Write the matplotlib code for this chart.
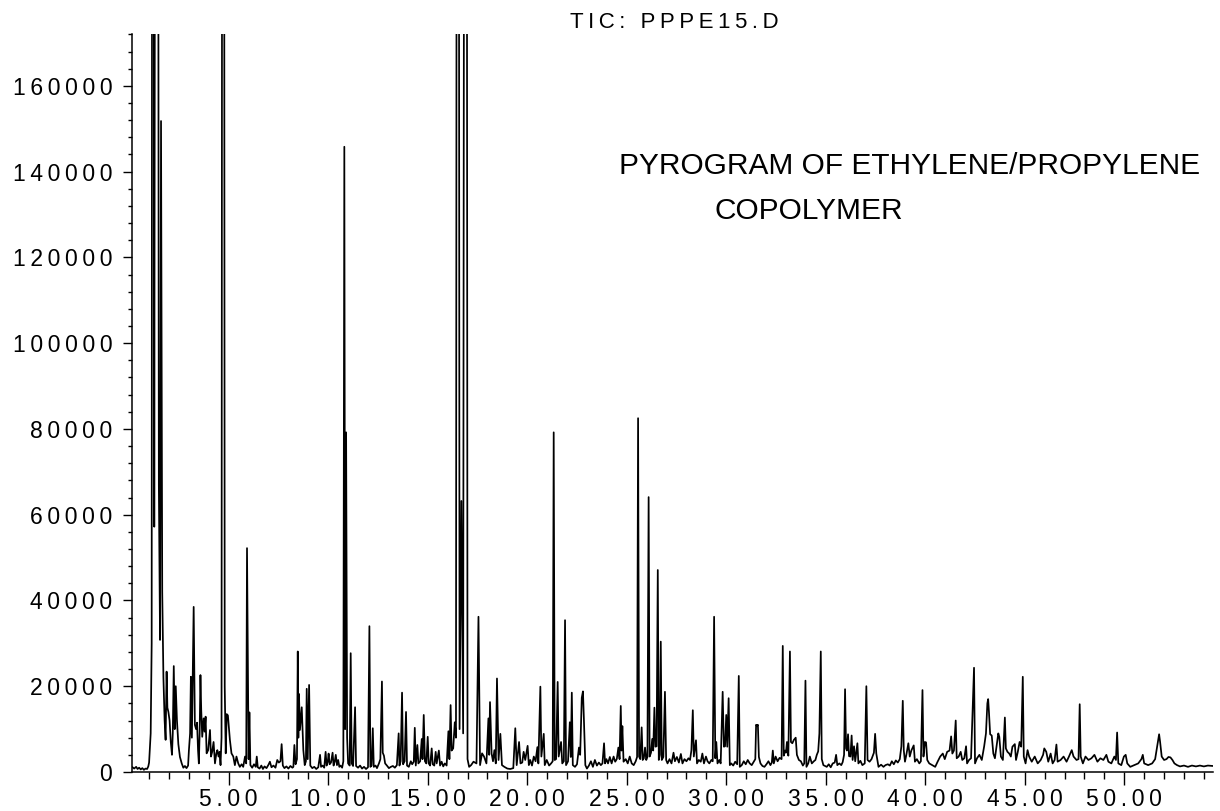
import matplotlib
matplotlib.use("Agg")
import matplotlib.pyplot as plt
from matplotlib import font_manager
from matplotlib.ticker import MultipleLocator, FuncFormatter
import numpy as np

# TIC trace, (retention time [min], abundance)
# peaks going off the top of the plot are given as 600000 (clipped)
seg_0_5 = [(0.17, 1100), (0.25, 800), (0.35, 1200), (0.42, 700), (0.5, 1000), (0.58, 600),
           (0.66, 900), (0.74, 500), (0.82, 800), (0.9, 700), (0.96, 1300), (1.0, 2200),
           (1.04, 5500), (1.08, 9000), (1.13, 30000), (1.19, 600000), (1.26, 57200),
           (1.38, 600000), (1.49, 67000), (1.55, 30800), (1.60, 151800), (1.66, 42000),
           (1.72, 22000), (1.78, 12000), (1.83, 7500), (1.88, 23400), (1.92, 15000),
           (1.97, 14000), (2.03, 12000), (2.09, 7000), (2.15, 4000), (2.19, 9000),
           (2.24, 24700), (2.29, 10000), (2.34, 20000), (2.40, 12000), (2.47, 6500),
           (2.55, 3500), (2.64, 2000), (2.72, 1000), (2.8, 1400), (2.88, 900), (2.96, 1500),
           (3.0, 5000), (3.06, 9000), (3.1, 22200), (3.15, 8000), (3.24, 38500), (3.3, 11000),
           (3.36, 10000), (3.41, 11500), (3.46, 5000), (3.5, 2000), (3.54, 9000),
           (3.58, 22600), (3.62, 14400), (3.67, 8200), (3.74, 12500), (3.79, 9400),
           (3.84, 12900), (3.89, 4350), (3.97, 5100), (4.06, 9800), (4.11, 3600),
           (4.17, 4700), (4.24, 7000), (4.31, 2000), (4.38, 4350), (4.43, 5100),
           (4.49, 3600), (4.54, 4700), (4.59, 1600), (4.64, 8000), (4.72, 600000),
           (4.80, 20000), (4.85, 4350), (4.90, 13500), (4.96, 13200)]
seg_5_10 = [(5.06, 7500), (5.14, 4350), (5.23, 3600), (5.31, 1600), (5.39, 3600), (5.48, 2000),
            (5.56, 1200), (5.65, 1800), (5.73, 1200), (5.82, 3600), (5.88, 2000),
            (5.92, 52200), (5.97, 21800), (6.0, 3000), (6.04, 13900), (6.09, 1600),
            (6.18, 1000), (6.27, 1800), (6.36, 1200), (6.41, 3600), (6.46, 1100), (6.55, 800),
            (6.64, 1500), (6.72, 700), (6.8, 1300), (6.9, 900), (7.0, 1700), (7.07, 2400),
            (7.15, 1100), (7.25, 1500), (7.35, 1000), (7.44, 2800), (7.52, 2200), (7.6, 2500),
            (7.66, 6500), (7.72, 1500), (7.8, 900), (7.9, 1300), (8.0, 800), (8.1, 1400),
            (8.2, 1000), (8.25, 1200), (8.30, 6300), (8.36, 1800), (8.43, 3000),
            (8.47, 28100), (8.50, 8000), (8.53, 18200), (8.58, 9800), (8.67, 15100),
            (8.75, 5100), (8.82, 1600), (8.88, 2500), (8.92, 19400), (8.97, 3000),
            (9.04, 20300), (9.10, 1500), (9.2, 900), (9.3, 1200), (9.4, 700), (9.5, 1100),
            (9.59, 4000), (9.64, 1200), (9.72, 1500), (9.8, 1000), (9.87, 4700), (9.92, 1500),
            (9.98, 2500)]
seg_10_15 = [(10.02, 4300), (10.07, 1800), (10.14, 2200), (10.22, 4500), (10.27, 1500),
             (10.33, 2500), (10.38, 4000), (10.44, 1600), (10.5, 2800), (10.56, 1200),
             (10.62, 1500), (10.7, 1000), (10.76, 2500), (10.81, 145800), (10.85, 10000),
             (10.90, 79200), (10.95, 8000), (11.0, 2000), (11.08, 1500), (11.13, 27700),
             (11.18, 2000), (11.25, 1400), (11.35, 15100), (11.40, 1400), (11.5, 1000),
             (11.6, 1500), (11.7, 800), (11.8, 1200), (11.9, 700), (12.0, 1100),
             (12.07, 34000), (12.12, 1200), (12.18, 1500), (12.24, 10200), (12.29, 1200),
             (12.38, 1500), (12.45, 900), (12.55, 2000), (12.62, 3000), (12.70, 21100),
             (12.74, 4500), (12.8, 3800), (12.86, 2000), (12.95, 1500), (13.05, 900),
             (13.15, 1200), (13.25, 1400), (13.35, 1000), (13.45, 1600), (13.54, 9000),
             (13.58, 1500), (13.64, 2500), (13.71, 18500), (13.76, 1800), (13.84, 2500),
             (13.91, 14000), (13.96, 1500), (14.05, 1200), (14.15, 2500), (14.22, 1800),
             (14.30, 2400), (14.35, 10300), (14.40, 1500), (14.48, 6300), (14.53, 2000),
             (14.62, 2500), (14.70, 7700), (14.74, 3000), (14.80, 13300), (14.86, 2500),
             (14.93, 2000), (15.0, 8200), (15.05, 2000)]
seg_15_20 = [(15.12, 1500), (15.2, 5500), (15.25, 1800), (15.33, 1500), (15.4, 4700),
             (15.45, 2000), (15.56, 5000), (15.62, 1500), (15.7, 2400), (15.78, 1300),
             (15.86, 2000), (15.95, 1500), (16.04, 9500), (16.09, 3000), (16.15, 15600),
             (16.2, 5000), (16.28, 5500), (16.36, 11600), (16.42, 8000), (16.51, 600000),
             (16.60, 10000), (16.69, 63200), (16.78, 9000), (16.91, 600000), (17.0, 3000),
             (17.08, 1200), (17.18, 1600), (17.3, 2400), (17.45, 2000), (17.55, 36200),
             (17.63, 1600), (17.73, 4350), (17.83, 3600), (17.95, 2000), (18.05, 12500),
             (18.09, 4000), (18.13, 16300), (18.21, 4300), (18.28, 2500), (18.35, 5100),
             (18.42, 2000), (18.48, 21800), (18.56, 2800), (18.65, 8900), (18.73, 1600),
             (18.85, 1200), (19.0, 800), (19.15, 700), (19.3, 900), (19.4, 10200),
             (19.47, 1600), (19.59, 7000), (19.66, 2000), (19.75, 2200), (19.82, 4700),
             (19.9, 2800), (20.02, 6100)]
seg_20_25 = [(20.08, 1600), (20.15, 2800), (20.24, 1500), (20.33, 3600), (20.42, 2500),
             (20.51, 5800), (20.56, 2000), (20.66, 19900), (20.71, 3600), (20.83, 8900),
             (20.88, 1600), (20.98, 2800), (21.1, 1500), (21.2, 2000), (21.28, 2500),
             (21.33, 79200), (21.38, 2800), (21.45, 3000), (21.53, 21000), (21.58, 3600),
             (21.7, 7000), (21.76, 2000), (21.84, 2500), (21.90, 35400), (21.95, 1600),
             (22.05, 2500), (22.14, 11600), (22.19, 3500), (22.24, 18500), (22.29, 1600),
             (22.4, 1200), (22.5, 1800), (22.6, 5700), (22.66, 4000), (22.74, 17300),
             (22.80, 18800), (22.85, 12000), (22.92, 1600), (23.0, 800), (23.1, 1500),
             (23.2, 2500), (23.3, 1200), (23.4, 2800), (23.5, 1500), (23.6, 2200),
             (23.7, 1600), (23.78, 2000), (23.86, 6700), (23.91, 2000), (23.98, 3000),
             (24.06, 2000), (24.15, 3500), (24.24, 2000), (24.34, 3600), (24.42, 2400),
             (24.5, 3000), (24.58, 5700), (24.64, 3000), (24.70, 15400), (24.74, 5000),
             (24.78, 10700), (24.84, 2400), (24.95, 3000), (25.05, 2000), (25.15, 3600),
             (25.25, 2000), (25.35, 1600), (25.45, 2500), (25.52, 3500)]
seg_25_30 = [(25.57, 82500), (25.62, 3600), (25.68, 3000), (25.75, 10400), (25.8, 2800),
             (25.86, 3200), (25.92, 5700), (25.98, 2800), (26.04, 3500), (26.10, 64100),
             (26.15, 3600), (26.22, 4500), (26.28, 7700), (26.33, 5000), (26.39, 15000),
             (26.44, 5900), (26.5, 6000), (26.56, 47100), (26.61, 2800), (26.66, 4000),
             (26.71, 30400), (26.76, 2800), (26.84, 3500), (26.92, 18700), (26.98, 2800),
             (27.05, 2000), (27.15, 3000), (27.25, 2000), (27.35, 4500), (27.42, 2500),
             (27.52, 3500), (27.62, 2200), (27.72, 4200), (27.8, 2000), (27.9, 3000),
             (28.0, 2500), (28.1, 3200), (28.18, 2800), (28.25, 5100), (28.32, 14400),
             (28.37, 3600), (28.48, 7400), (28.53, 2000), (28.62, 2800), (28.72, 2400),
             (28.8, 4300), (28.88, 2000), (28.98, 3600), (29.06, 2500), (29.15, 2000),
             (29.25, 2800), (29.32, 2500), (29.39, 36200), (29.45, 3200), (29.5, 7000),
             (29.56, 2000), (29.65, 2800), (29.72, 2000), (29.82, 18700), (29.88, 5900),
             (29.94, 6000), (30.0, 13300), (30.05, 5900), (30.12, 17200), (30.18, 1600)]
seg_30_35 = [(30.25, 2000), (30.35, 1500), (30.45, 2400), (30.55, 1800), (30.63, 22400),
             (30.68, 1200), (30.78, 1600), (30.88, 2500), (30.98, 1800), (31.08, 2800),
             (31.18, 2000), (31.28, 1600), (31.38, 2400), (31.46, 3000), (31.50, 11000),
             (31.55, 10800), (31.59, 11000), (31.64, 3500), (31.72, 2000), (31.82, 1400),
             (31.92, 1200), (32.02, 1800), (32.12, 2500), (32.22, 1600), (32.29, 2200),
             (32.34, 5000), (32.39, 2000), (32.48, 3600), (32.58, 2500), (32.68, 3300),
             (32.78, 3000), (32.84, 29400), (32.89, 3800), (32.95, 5000), (33.0, 4500),
             (33.05, 7000), (33.12, 3800), (33.2, 28100), (33.25, 7000), (33.32, 6700),
             (33.4, 7500), (33.49, 8000), (33.55, 4000), (33.65, 2800), (33.75, 2500),
             (33.85, 1500), (33.92, 2000), (33.98, 21300), (34.03, 1200), (34.12, 2000),
             (34.2, 3600), (34.3, 2000), (34.4, 2500), (34.48, 2800), (34.55, 4000),
             (34.62, 4800), (34.68, 9000), (34.75, 28100), (34.8, 3000), (34.88, 1600),
             (34.96, 1400)]
seg_35_40 = [(35.05, 1200), (35.15, 1800), (35.25, 1100), (35.35, 2000), (35.45, 2200),
             (35.52, 4000), (35.58, 1600), (35.68, 2000), (35.78, 1600), (35.85, 2300),
             (35.92, 4000), (35.97, 19300), (36.02, 5500), (36.06, 5000), (36.12, 8800),
             (36.17, 3700), (36.24, 3600), (36.30, 8500), (36.35, 2800), (36.42, 6000),
             (36.48, 2500), (36.59, 6700), (36.64, 2000), (36.74, 2600), (36.84, 1600),
             (36.96, 2000), (37.04, 20000), (37.1, 2800), (37.2, 2400), (37.3, 3000),
             (37.42, 4500), (37.48, 8900), (37.54, 4300), (37.65, 1200), (37.78, 1700),
             (37.9, 1200), (38.0, 1600), (38.12, 1800), (38.22, 1500), (38.32, 2500),
             (38.42, 1800), (38.52, 2700), (38.62, 2200), (38.72, 3000), (38.8, 6000),
             (38.87, 16600), (38.92, 5100), (38.98, 2400), (39.05, 4000), (39.15, 6700),
             (39.22, 3600), (39.3, 5000), (39.42, 6200), (39.48, 2400), (39.58, 3000),
             (39.7, 2000), (39.78, 2500), (39.86, 19100), (39.91, 3600), (39.98, 7000),
             (40.04, 6900), (40.1, 2800)]
seg_40_45 = [(40.2, 2000), (40.35, 1600), (40.5, 1200), (40.62, 2400), (40.75, 3600),
             (40.88, 4300), (40.98, 3000), (41.1, 4700), (41.22, 5000), (41.3, 8300),
             (41.36, 4300), (41.44, 5000), (41.53, 12000), (41.58, 3200), (41.68, 3600),
             (41.78, 4700), (41.86, 2800), (41.96, 3200), (42.05, 6000), (42.1, 2000),
             (42.2, 2800), (42.3, 3200), (42.45, 24300), (42.5, 2000), (42.6, 3200),
             (42.72, 4000), (42.84, 2800), (42.96, 6000), (43.05, 9000), (43.12, 16000),
             (43.16, 17000), (43.2, 14000), (43.26, 8800), (43.34, 8500), (43.42, 4300),
             (43.5, 3200), (43.58, 6000), (43.67, 9000), (43.72, 8200), (43.8, 3600),
             (43.9, 2800), (44.0, 12700), (44.05, 5500), (44.13, 4700), (44.22, 4300),
             (44.3, 3600), (44.38, 5900), (44.5, 6500), (44.56, 2800), (44.65, 4700),
             (44.74, 7000), (44.82, 5900), (44.90, 22200), (44.95, 3600), (45.04, 2000)]
seg_45_end = [(45.14, 5100), (45.22, 3600), (45.35, 2400), (45.5, 3600), (45.65, 2000),
              (45.8, 2800), (45.92, 4000), (45.98, 5500), (46.08, 4700), (46.18, 2400),
              (46.3, 4300), (46.4, 2000), (46.5, 2800), (46.59, 6400), (46.65, 2400),
              (46.8, 2800), (46.95, 3600), (47.1, 2400), (47.22, 3600), (47.36, 5100),
              (47.45, 3600), (47.6, 2800), (47.7, 3000), (47.76, 15800), (47.81, 3600),
              (47.92, 2000), (48.05, 3600), (48.2, 2800), (48.35, 3200), (48.5, 4000),
              (48.65, 2400), (48.8, 3200), (48.95, 2800), (49.1, 4000), (49.2, 2400),
              (49.35, 2000), (49.5, 3600), (49.58, 2800), (49.64, 9200), (49.7, 2000),
              (49.85, 1600), (49.98, 3600), (50.07, 4000), (50.15, 2000), (50.3, 1200),
              (50.5, 1600), (50.7, 2000), (50.86, 3000), (50.93, 4000), (51.0, 2000),
              (51.2, 1600), (51.4, 2000), (51.55, 3000), (51.65, 5900), (51.75, 8800),
              (51.8, 7000), (51.88, 3600), (52.0, 2800), (52.12, 3000), (52.22, 3500),
              (52.32, 3400), (52.42, 2800), (52.52, 2000), (52.65, 1600), (52.8, 1300),
              (53.0, 1500), (53.2, 1200), (53.4, 1500), (53.6, 1300), (53.8, 1500),
              (54.0, 1300), (54.2, 1500), (54.46, 1400)]

title_top = "TIC: PPPE15.D"
note_lines = ["PYROGRAM OF ETHYLENE/PROPYLENE", "COPOLYMER"]

trace = seg_0_5 + seg_5_10 + seg_10_15 + seg_15_20 + seg_20_25 + seg_25_30 + \
        seg_30_35 + seg_35_40 + seg_40_45 + seg_45_end
rt = np.array([p[0] for p in trace])
tic = np.array([p[1] for p in trace])

plt.rcParams['font.family'] = ['Liberation Sans', 'DejaVu Sans']
TS = '\u2009'  # thin space to get the wide letter spacing of the original

fig = plt.figure(figsize=(12.2, 8.11), dpi=100)
ax = fig.add_axes([0.1086, 0.0481, 0.8857, 0.9100])
ax.plot(rt, tic, color='black', linewidth=1.25)

ax.set_xlim(0.166, 54.46)
ax.set_ylim(0, 172100)
for s in ['top', 'right']:
    ax.spines[s].set_visible(False)
for s in ['left', 'bottom']:
    ax.spines[s].set_linewidth(1.1)

ax.xaxis.set_major_locator(MultipleLocator(5))
ax.xaxis.set_minor_locator(MultipleLocator(1))
ax.yaxis.set_major_locator(MultipleLocator(20000))
ax.yaxis.set_minor_locator(MultipleLocator(4000))
ax.xaxis.set_major_formatter(FuncFormatter(lambda v, p: TS.join('%.2f' % v)))
ax.yaxis.set_major_formatter(FuncFormatter(lambda v, p: TS.join('%d' % v)))

ax.tick_params(axis='x', which='major', direction='out', length=9, width=1.0, pad=2.5, labelsize=16.5)
ax.tick_params(axis='x', which='minor', direction='out', length=4.8, width=1.0)
ax.tick_params(axis='y', which='major', direction='out', length=6.5, width=1.0, pad=8, labelsize=16.5)
ax.tick_params(axis='y', which='minor', direction='out', length=3.2, width=1.0)

fig.text(0.5525, 1 - 28 / 811, TS.join(title_top), ha='center', va='baseline', fontsize=16)

names = {f.name for f in font_manager.fontManager.ttflist}
if 'Liberation Sans Narrow' in names:
    nfam, nsize = 'Liberation Sans Narrow', 26
else:
    nfam, nsize = 'Liberation Sans', 21.5
fig.text(619 / 1220, 1 - 174 / 811, note_lines[0], ha='left', va='baseline',
         fontsize=nsize, family=[nfam, 'DejaVu Sans'])
fig.text(715 / 1220, 1 - 219 / 811, note_lines[1], ha='left', va='baseline',
         fontsize=nsize, family=[nfam, 'DejaVu Sans'])

fig.savefig('out.png', dpi=100)
